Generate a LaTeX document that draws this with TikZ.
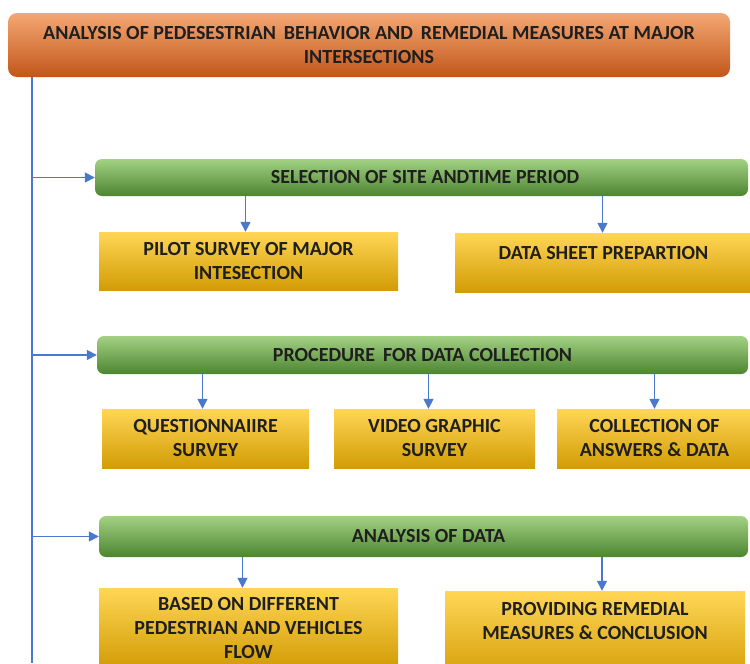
\documentclass[tikz,border=0pt]{standalone}
\usepackage{fontspec}
\setmainfont{Carlito}
\usetikzlibrary{arrows.meta,positioning,calc}
\definecolor{trunkblue}{HTML}{4A78CC}
\definecolor{orangetop}{HTML}{F4A774}
\definecolor{orangemid}{HTML}{EC7C34}
\definecolor{orangebot}{HTML}{C2561A}
\definecolor{greentop}{HTML}{A3D184}
\definecolor{greenmid}{HTML}{6DA94A}
\definecolor{greenbot}{HTML}{4C8530}
\definecolor{yellowtop}{HTML}{FFD655}
\definecolor{yellowmid}{HTML}{FFC10C}
\definecolor{yellowbot}{HTML}{D29C05}
\begin{document}
\begin{tikzpicture}[x=1pt,y=-1pt,
    box/.style={inner sep=0pt,align=center,font=\fontsize{20}{24}\selectfont\bfseries,text=black!88},
    head/.style={box,rounded corners=9pt,top color=orangetop,middle color=orangemid,bottom color=orangebot},
    stage/.style={box,rounded corners=7pt,top color=greentop,middle color=greenmid,bottom color=greenbot},
    task/.style={box,top color=yellowtop,middle color=yellowmid,bottom color=yellowbot},
    link/.style={-{Triangle[length=10pt,width=10pt]},trunkblue,line width=1.5pt}]
  \clip (0,0) rectangle (750,664);
  \node[head,minimum width=722,minimum height=64] (title) at (369,45)
    {ANALYSIS OF PEDESESTRIAN\, BEHAVIOR AND\, REMEDIAL MEASURES AT MAJOR\\INTERSECTIONS};
  \node[stage,minimum width=653,minimum height=37] (g1) at (421.5,177.5) {\hspace{7pt}SELECTION OF SITE ANDTIME PERIOD};
  \node[task,minimum width=299,minimum height=58] (pilot) at (248.5,261) {PILOT SURVEY OF MAJOR\\INTESECTION};
  \node[task,minimum width=297,minimum height=59] (sheet) at (603.5,262.5) {DATA SHEET PREPARTION\\[-5pt]};
  \node[stage,minimum width=651,minimum height=38] (g2) at (422.5,355) {PROCEDURE\, FOR DATA COLLECTION};
  \node[task,minimum width=207,minimum height=59] (quest) at (205.5,438.5) {QUESTIONNAIIRE\\SURVEY};
  \node[task,minimum width=201,minimum height=59] (video) at (434.5,438.5) {VIDEO GRAPHIC\\SURVEY};
  \node[task,minimum width=195,minimum height=59] (answ) at (654.5,438.5) {COLLECTION OF\\ANSWERS \& DATA};
  \node[stage,minimum width=649,minimum height=41] (g3) at (423.5,536.5) {\hspace{10pt}ANALYSIS OF DATA};
  \node[task,minimum width=299,minimum height=80] (flow) at (248.5,628) {BASED ON DIFFERENT\\PEDESTRIAN AND VEHICLES\\FLOW};
  \node[task,minimum width=300,minimum height=92] (remed) at (595,637) {PROVIDING REMEDIAL\\MEASURES \& CONCLUSION\\\strut};
  \coordinate (tb) at (32,663);
  \draw[trunkblue,line width=1.5pt] (title.south -| tb) -- (tb);
  \draw[link] (g1.west -| tb) -- (g1.west);
  \draw[link] (g2.west -| tb) -- (g2.west);
  \draw[link] (g3.west -| tb) -- (g3.west);
  \draw[link] ([xshift=-3]pilot.north |- g1.south) -- ([xshift=-3]pilot.north);
  \draw[link] ([xshift=-1]sheet.north |- g1.south) -- ([xshift=-1]sheet.north);
  \draw[link] ([xshift=-3]quest.north |- g2.south) -- ([xshift=-3]quest.north);
  \draw[link] ([xshift=-6]video.north |- g2.south) -- ([xshift=-6]video.north);
  \draw[link] (answ.north |- g2.south) -- (answ.north);
  \draw[link] ([xshift=-6]flow.north |- g3.south) -- ([xshift=-6]flow.north);
  \draw[link] ([xshift=7]remed.north |- g3.south) -- ([xshift=7]remed.north);
\end{tikzpicture}
\end{document}
